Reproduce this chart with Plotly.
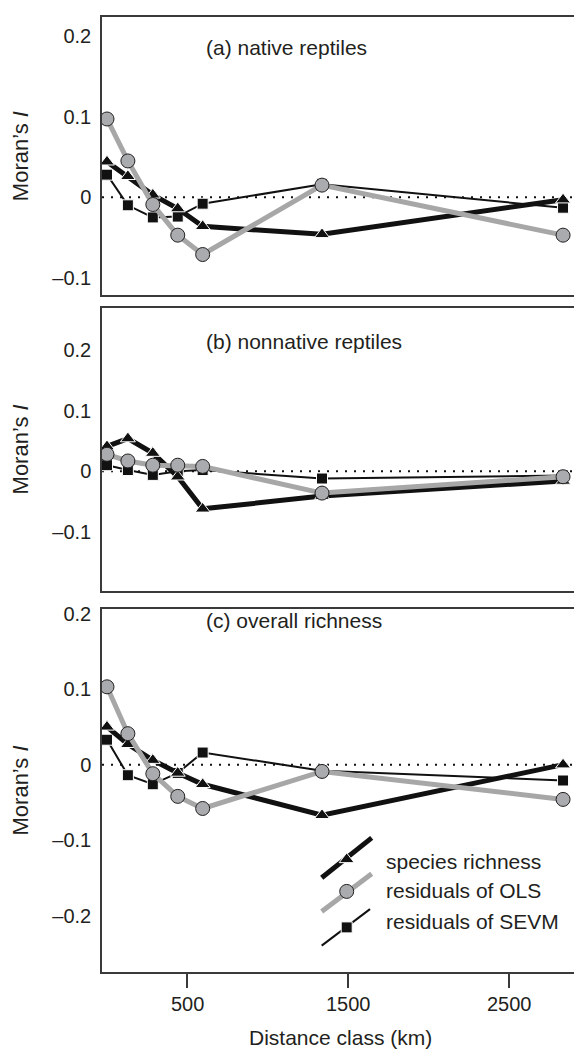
import plotly.graph_objects as go

# ---------------- data ----------------
distance_km = [0, 130, 285, 440, 595, 1337, 2836]

rich_a = [0.044, 0.026, 0.003, -0.014, -0.036, -0.046, -0.003]
ols_a = [0.097, 0.045, -0.009, -0.047, -0.071, 0.015, -0.047]
sevm_a = [0.028, -0.010, -0.025, -0.024, -0.008, 0.016, -0.013]

rich_b = [0.041, 0.054, 0.030, -0.009, -0.062, -0.041, -0.016]
ols_b = [0.028, 0.017, 0.010, 0.010, 0.008, -0.036, -0.009]
sevm_b = [0.010, 0.002, -0.006, 0.000, 0.002, -0.012, -0.007]

rich_c = [0.050, 0.027, 0.006, -0.011, -0.026, -0.067, 0.000]
ols_c = [0.103, 0.041, -0.012, -0.042, -0.058, -0.009, -0.046]
sevm_c = [0.033, -0.014, -0.026, -0.011, 0.016, -0.008, -0.021]

panel_titles = ["(a) native reptiles", "(b) nonnative reptiles", "(c) overall richness"]
series_names = ["species richness", "residuals of OLS", "residuals of SEVM"]
x_ticks = [500, 1500, 2500]
y_ticks_ab = [-0.1, 0, 0.1, 0.2]
y_ticks_c = [-0.2, -0.1, 0, 0.1, 0.2]
y_tick_text_ab = ["\u20130.1", "0", "0.1", "0.2"]
y_tick_text_c = ["\u20130.2", "\u20130.1", "0", "0.1", "0.2"]

# ---------------- style ----------------
W, H = 574, 1049
FONT = "Liberation Sans, Arial, Helvetica, sans-serif"
TXT = "#231f20"
AX = "#3a3a3a"
GRAY_LINE = "#a7a7a7"
GRAY_FILL = "#a9abae"

def px_x(p):
    return p / W

def px_y(p):
    return 1 - p / H

panels = [
    dict(rich=rich_a, ols=ols_a, sevm=sevm_a, top=11, bottom=291, yr=[-0.1216, 0.2235],
         tv=y_ticks_ab, tt=y_tick_text_ab, title_y=42),
    dict(rich=rich_b, ols=ols_b, sevm=sevm_b, top=304, bottom=588, yr=[-0.197, 0.269],
         tv=y_ticks_ab, tt=y_tick_text_ab, title_y=337),
    dict(rich=rich_c, ols=ols_c, sevm=sevm_c, top=606, bottom=972, yr=[-0.275, 0.2066],
         tv=y_ticks_c, tt=y_tick_text_c, title_y=618),
]

fig = go.Figure()
layout = dict(
    width=W, height=H, margin=dict(l=0, r=0, t=0, b=0),
    paper_bgcolor="white", plot_bgcolor="rgba(0,0,0,0)",
    showlegend=False, font=dict(family=FONT, color=TXT, size=20),
)
shapes = []
annotations = []
xrange_ = [-31, 2904]

for i, p in enumerate(panels):
    sfx = "" if i == 0 else str(i + 1)
    xa, ya = "x" + sfx, "y" + sfx
    # SEVM
    fig.add_trace(go.Scatter(
        x=distance_km, y=p["sevm"], xaxis=xa, yaxis=ya, mode="lines+markers",
        name=series_names[2], line=dict(color="#111111", width=2),
        marker=dict(symbol="square", size=11, color="#111111", line=dict(color="white", width=1))))
    # species richness
    fig.add_trace(go.Scatter(
        x=distance_km, y=p["rich"], xaxis=xa, yaxis=ya, mode="lines+markers",
        name=series_names[0], line=dict(color="#111111", width=5),
        marker=dict(symbol="triangle-up", size=13, color="#111111", line=dict(color="white", width=1))))
    # OLS
    fig.add_trace(go.Scatter(
        x=distance_km, y=p["ols"], xaxis=xa, yaxis=ya, mode="lines+markers",
        name=series_names[1], line=dict(color=GRAY_LINE, width=5),
        marker=dict(symbol="circle", size=14, color=GRAY_FILL, line=dict(color=TXT, width=1))))

    xkey = "xaxis" + sfx
    ykey = "yaxis" + sfx
    xdict = dict(domain=[px_x(102), 1], range=xrange_, anchor=ya, showline=True, mirror=True,
                 linecolor=AX, linewidth=1.5, showgrid=False, zeroline=False,
                 showticklabels=False, ticks="")
    if i == 2:
        xdict.update(ticks="outside", ticklen=14, tickwidth=1.5, tickcolor=AX, tickvals=x_ticks)
        for v in x_ticks:
            annotations.append(dict(text=str(v), xref=xa, yref="paper", x=v, y=px_y(1004),
                                    xanchor="center", yanchor="middle", showarrow=False,
                                    font=dict(size=20, family=FONT, color=TXT)))
    layout[xkey] = xdict
    layout[ykey] = dict(domain=[px_y(p["bottom"]), px_y(p["top"])], range=p["yr"], anchor=xa,
                        showline=True, mirror=False, linecolor=AX, linewidth=1.5,
                        showgrid=False, zeroline=False, ticks="", tickvals=p["tv"], ticktext=p["tt"],
                        tickfont=dict(size=20, family=FONT, color=TXT), ticklabelstandoff=5)
    # dotted zero line
    shapes.append(dict(type="line", xref=xa + " domain", yref=ya, x0=0, x1=1, y0=0, y1=0,
                       line=dict(color="#111111", width=2, dash="2px,7px"), layer="below"))
    # panel title
    annotations.append(dict(text=panel_titles[i], xref="paper", yref="paper",
                            x=px_x(204), y=px_y(p["title_y"]), xanchor="left", yanchor="middle",
                            showarrow=False, font=dict(size=21, family=FONT, color=TXT)))
    # y title
    annotations.append(dict(text="Moran\u2019s <i>I</i>", xref="paper", yref="paper",
                            x=px_x(20), y=px_y((p["top"] + p["bottom"]) / 2), textangle=-90,
                            xanchor="center", yanchor="middle", showarrow=False,
                            font=dict(size=22, family=FONT, color=TXT)))

# x title
annotations.append(dict(text="Distance class (km)", xref="paper", yref="paper",
                        x=px_x(340), y=px_y(1037), xanchor="center", yanchor="middle",
                        showarrow=False, font=dict(size=21, family=FONT, color=TXT)))

# ---------------- legend (drawn in pixel space) ----------------
layout["xaxis4"] = dict(domain=[0, 1], range=[0, W], anchor="y4", visible=False, fixedrange=True)
layout["yaxis4"] = dict(domain=[0, 1], range=[H, 0], anchor="x4", visible=False, fixedrange=True)

leg_items = [
    dict(x0=321.7, y0=876.7, x1=371.7, y1=836.7, mx=346.7, my=858.3, ty=860,
         lc="#111111", lw=5, sym="triangle-up", ms=13, mc="#111111", olc="white"),
    dict(x0=321.7, y0=910.7, x1=371.7, y1=872.7, mx=346.7, my=890.5, ty=890,
         lc=GRAY_LINE, lw=5, sym="circle", ms=14, mc=GRAY_FILL, olc=TXT),
    dict(x0=321.7, y0=945, x1=370, y1=908.3, mx=346.7, my=926.7, ty=921,
         lc="#111111", lw=2, sym="square", ms=11, mc="#111111", olc="white"),
]
for k, it in enumerate(leg_items):
    shapes.append(dict(type="line", xref="x4", yref="y4", x0=it["x0"], y0=it["y0"],
                       x1=it["x1"], y1=it["y1"], line=dict(color=it["lc"], width=it["lw"]),
                       layer="below"))
    fig.add_trace(go.Scatter(x=[it["mx"]], y=[it["my"]], xaxis="x4", yaxis="y4", mode="markers",
                             marker=dict(symbol=it["sym"], size=it["ms"], color=it["mc"],
                                         line=dict(color=it["olc"], width=1)),
                             hoverinfo="skip"))
    annotations.append(dict(text=series_names[k], xref="paper", yref="paper",
                            x=px_x(384), y=px_y(it["ty"]), xanchor="left", yanchor="middle",
                            showarrow=False, font=dict(size=21, family=FONT, color=TXT)))

layout["shapes"] = shapes
layout["annotations"] = annotations
fig.update_layout(**layout)
fig.write_html("out.html")
